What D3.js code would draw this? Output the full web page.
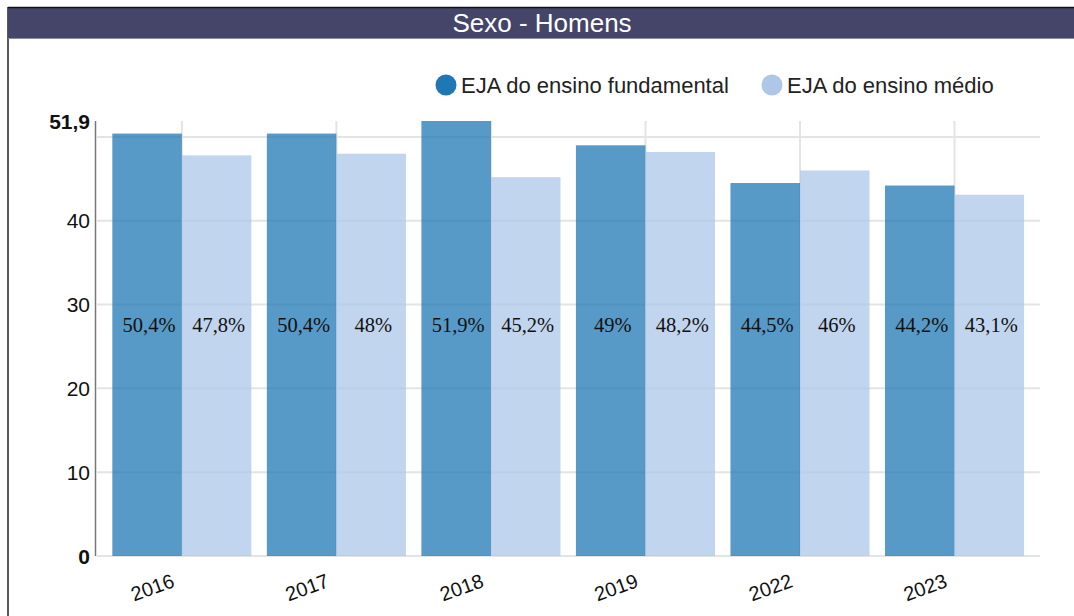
<!DOCTYPE html>
<html><head><meta charset="utf-8">
<script src="https://cdn.jsdelivr.net/npm/d3@7"></script>
<style>
body{margin:0;background:#fff;}
svg{display:block;}
</style></head>
<body>
<svg id="c" width="1074" height="616"></svg>
<script>
const years = ["2016","2017","2018","2019","2022","2023"];
const seriesNames = ["EJA do ensino fundamental","EJA do ensino médio"];
const fundamental = [50.4, 50.4, 51.9, 49, 44.5, 44.2];
const medio = [47.8, 48, 45.2, 48.2, 46, 43.1];
const yTicks = [0, 10, 20, 30, 40, 50];
const yMax = 51.9;
const colors = ["#1f77b4", "#aec7e8"];

const svg = d3.select("#c");
// frame
svg.append("line").attr("x1",8).attr("x2",8).attr("y1",7).attr("y2",616).attr("stroke","#222").attr("stroke-width",1.5);
svg.append("rect").attr("x",8).attr("y",7).attr("width",1066).attr("height",32).attr("fill","#45456a");
svg.append("line").attr("x1",8).attr("x2",1074).attr("y1",7.5).attr("y2",7.5).attr("stroke","#111").attr("stroke-width",1.5);
svg.append("line").attr("x1",8).attr("x2",1074).attr("y1",38.5).attr("y2",38.5).attr("stroke","#8a8aa4").attr("stroke-width",1);
svg.append("text").attr("x",542).attr("y",32).attr("text-anchor","middle").attr("fill","#fff")
  .attr("font-family","Liberation Sans, Arial, sans-serif").attr("font-size",26).text("Sexo - Homens");

const y = d3.scaleLinear().domain([0, yMax]).range([556, 121]);
const x0 = d3.scaleBand().domain(years).range([104.6, 1031.8]).paddingInner(0.1).paddingOuter(0.05);
const x1 = d3.scaleBand().domain([0,1]).range([0, x0.bandwidth()]);

const g = svg.append("g");
// horizontal grid
g.selectAll(".hg").data(yTicks).join("line")
  .attr("x1",97).attr("x2",1040).attr("y1",d=>y(d)).attr("y2",d=>y(d))
  .attr("stroke","#e4e4e4").attr("stroke-width",2);
// vertical grid
g.selectAll(".vg").data(years).join("line")
  .attr("x1",d=>x0(d)+x0.bandwidth()/2).attr("x2",d=>x0(d)+x0.bandwidth()/2)
  .attr("y1",y(yMax)).attr("y2",y(0))
  .attr("stroke","#e4e4e4").attr("stroke-width",2);

// bars
const data = years.map((yr,i)=>({yr, vals:[fundamental[i], medio[i]]}));
const grp = g.selectAll(".grp").data(data).join("g").attr("transform",d=>`translate(${x0(d.yr)},0)`);
grp.selectAll("rect").data(d=>d.vals.map((v,k)=>({v,k}))).join("rect")
  .attr("x",d=>x1(d.k)).attr("width",x1.bandwidth())
  .attr("y",d=>y(d.v)).attr("height",d=>y(0)-y(d.v))
  .attr("fill",d=>colors[d.k]).attr("fill-opacity",0.75);
grp.selectAll("text").data(d=>d.vals.map((v,k)=>({v,k}))).join("text")
  .attr("x",d=>x1(d.k)+x1.bandwidth()/2+2).attr("y",332)
  .attr("text-anchor","middle").attr("font-family","Liberation Serif, Times New Roman, serif")
  .attr("font-size",20.5).attr("fill","#111")
  .text(d=>String(d.v).replace(".",",")+"%");

// y axis
svg.append("line").attr("x1",95.5).attr("x2",95.5).attr("y1",y(yMax)).attr("y2",y(0)).attr("stroke","#777").attr("stroke-width",1.5);
const yLabels = [0,10,20,30,40,yMax];
svg.selectAll(".yl").data(yLabels).join("text")
  .attr("x",90).attr("y",d=>y(d)+7.5).attr("text-anchor","end")
  .attr("font-family","Liberation Sans, Arial, sans-serif").attr("font-size",21)
  .attr("font-weight",d=>(d===0||d===yMax)?"bold":"normal").attr("fill","#111")
  .text(d=>String(d).replace(".",","));

// x labels
svg.selectAll(".xl").data(years).join("text")
  .attr("transform",d=>`translate(${x0(d)+x0.bandwidth()/2-27},${594}) rotate(-20)`)
  .attr("text-anchor","middle")
  .attr("font-family","Liberation Sans, Arial, sans-serif").attr("font-size",20).attr("fill","#111")
  .text(d=>d);

// legend
const legX = [446, 772];
const lg = svg.selectAll(".lg").data(seriesNames).join("g").attr("transform",(d,i)=>`translate(${legX[i]},85)`);
lg.append("circle").attr("r",10.5).attr("fill",(d,i)=>colors[i]);
lg.append("text").attr("x",15).attr("y",7.5).attr("font-family","Liberation Sans, Arial, sans-serif")
  .attr("font-size",22).attr("fill","#222").text(d=>d);
</script>
</body></html>
